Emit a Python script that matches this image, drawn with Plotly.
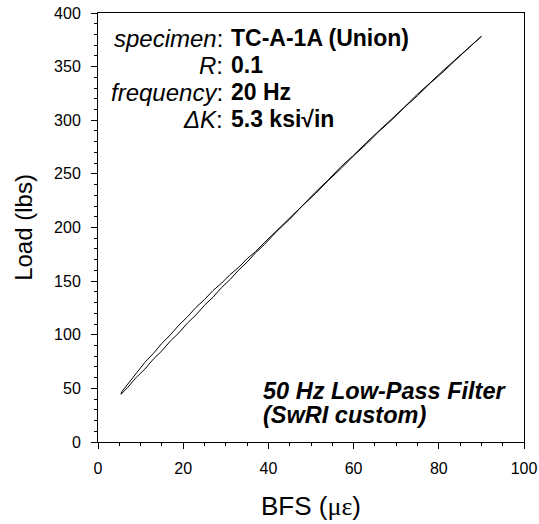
import plotly.graph_objects as go

# Lower branch (loading) of the hysteresis loop
lower_x = [5.4, 7, 9, 11, 13, 15, 17, 19, 21, 23, 25, 27, 29, 31, 33, 35, 37, 39,
           42, 45, 48, 51, 54, 57, 60, 63, 66, 69, 72, 75, 78, 81, 84, 87, 90]
lower_y = [44.5, 51.0, 60.3, 68.0, 77.3, 85.0, 94.2, 101.8, 110.9, 118.5, 127.5, 135.0,
           144.0, 151.4, 160.3, 167.7, 176.5, 183.9, 196.5, 207.8, 220.3, 231.4, 243.7,
           254.8, 266.9, 277.8, 289.8, 300.5, 312.3, 322.9, 334.6, 345.0, 356.4, 366.9, 377.9]
# Upper branch (unloading), from the top end back to the bottom tip
upper_x = [90, 87, 84, 81, 78, 75, 72, 69, 66, 63, 60, 57, 54, 51, 48, 45, 42, 39, 37,
           35, 33, 31, 29, 27, 25, 23, 21, 19, 17, 15, 13, 11, 9, 7, 5.6, 5.4]
upper_y = [378.2, 367.7, 356.5, 346.3, 335.0, 324.4, 312.5, 301.6, 289.9, 279.2, 267.4,
           256.5, 244.2, 232.8, 220.4, 209.0, 196.8, 185.7, 177.6, 170.9, 162.8, 156.1,
           148.1, 141.2, 132.8, 125.5, 116.7, 109.0, 100.0, 92.0, 82.6, 74.2, 64.1, 54.6,
           47.0, 44.5]

info_labels = ["<i>specimen</i>:", "<i>R</i>:", "<i>frequency</i>:", "<i>ΔK</i>:"]
info_values = ["<b>TC-A-1A (Union)</b>", "<b>0.1</b>", "<b>20 Hz</b>", "<b>5.3 ksi√in</b>"]
filter_lines = ["<b><i>50 Hz Low-Pass Filter</i></b>", "<b><i>(SwRI custom)</i></b>"]

FONT = "Liberation Sans, Arial, sans-serif"
W, H = 539, 524
L, R, T, B = 98, 15, 13, 82
PW, PH = W - L - R, H - T - B

def px(x):
    return (x - L) / PW

def py(y):
    return (H - B - y) / PH

fig = go.Figure()
fig.add_trace(go.Scatter(x=lower_x + upper_x, y=lower_y + upper_y, mode="lines",
                         line=dict(color="black", width=1), showlegend=False,
                         hoverinfo="skip"))

fs_lab, fs_val = 24, 23
row_baselines = [46, 73, 100, 127]
for lab, val, yb in zip(info_labels, info_values, row_baselines):
    yc = yb - 0.33 * 23
    fig.add_annotation(x=px(225), y=py(yc), xref="paper", yref="paper", text=lab,
                       showarrow=False, xanchor="right", yanchor="middle",
                       font=dict(family=FONT, size=fs_lab, color="black"))
    fig.add_annotation(x=px(229), y=py(yc), xref="paper", yref="paper", text=val,
                       showarrow=False, xanchor="left", yanchor="middle",
                       font=dict(family=FONT, size=fs_val, color="black"))

fs_f = 23.5
for line, yb in zip(filter_lines, [399, 423]):
    fig.add_annotation(x=px(261), y=py(yb - 0.33 * fs_f), xref="paper", yref="paper",
                       text=line, showarrow=False, xanchor="left", yanchor="middle",
                       font=dict(family=FONT, size=fs_f, color="black"))

axis_common = dict(showline=True, linecolor="black", linewidth=1, mirror=True,
                   showgrid=False, zeroline=False, ticks="outside", ticklen=6,
                   tickwidth=1, tickcolor="black", automargin=False,
                   tickfont=dict(family=FONT, size=16, color="black"))

fig.update_xaxes(range=[0, 100], dtick=20, tick0=0,
                 minor=dict(dtick=5, ticks="outside", ticklen=3, tickcolor="black"),
                 title=dict(text="BFS (<span style='font-family:Liberation Serif'>με</span>)",
                            font=dict(family=FONT, size=26, color="black"), standoff=20),
                 ticklabelstandoff=6, **axis_common)
fig.update_yaxes(range=[0, 400], dtick=50, tick0=0,
                 minor=dict(dtick=10, ticks="outside", ticklen=3, tickcolor="black"),
                 title=dict(text="Load (lbs)",
                            font=dict(family=FONT, size=24, color="black"), standoff=14),
                 ticklabelstandoff=7, **axis_common)

fig.update_layout(width=W, height=H, margin=dict(l=L, r=R, t=T, b=B),
                  plot_bgcolor="white", paper_bgcolor="white",
                  font=dict(family=FONT, color="black"))

fig.write_html("out.html", config={"displayModeBar": False},
               post_script="document.body.style.margin='0';document.body.style.overflow='hidden';")
